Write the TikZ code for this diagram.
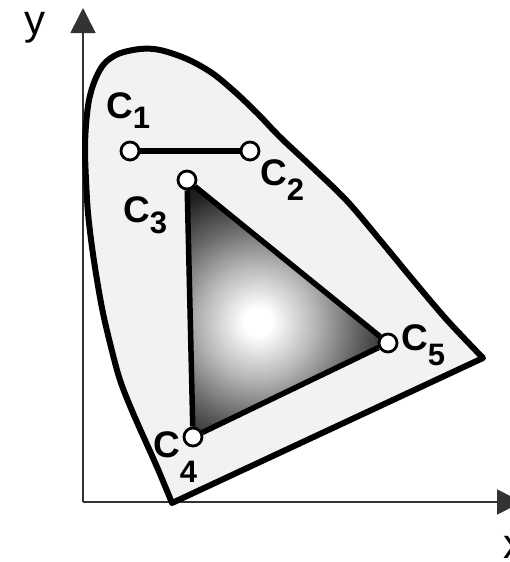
\documentclass[tikz,border=0pt]{standalone}
\usepackage{fontspec}
\setmainfont{Liberation Sans}
\usetikzlibrary{arrows.meta}
\pgfdeclareradialshading{trishade}{\pgfpoint{0bp}{0bp}}{color(0bp)=(white); color(2bp)=(white); color(8bp)=(black!28); color(14bp)=(black!60); color(20bp)=(black!88); color(27bp)=(black); color(50bp)=(black)}
\newcommand{\clab}[2]{C\raisebox{-#2pt}{\fontsize{31}{31}\selectfont #1}}
\begin{document}
\begin{tikzpicture}[x=1pt,y=-1pt,
  axis/.style={line width=1.6pt, black!80, -{Triangle[length=25pt,width=25pt]}},
  outline/.style={line width=6pt, line join=round},
  pnt/.style={circle, draw, fill=white, line width=2.8pt, minimum size=18pt, inner sep=0pt},
  edge/.style={line width=5.5pt},
  lab/.style={anchor=base west, inner sep=0pt, font=\fontsize{37}{37}\selectfont\bfseries},
  axlab/.style={anchor=base west, inner sep=0pt, font=\fontsize{42}{42}\selectfont}]
\useasboundingbox (0,0) rectangle (510,562);
% axes
\coordinate (O) at (83,502);
\coordinate (ytip) at (83,8);
\coordinate (xtip) at (522,502);
\draw[axis] (O) -- (ytip);
\draw[axis] (O) -- (xtip);
\node[axlab] (ylab) at (24,34) {y};
\node[axlab] (xlab) at (503,558) {x};
% horseshoe
\draw[outline, fill=black!5] plot[smooth, tension=0.55] coordinates {
 (172,503) (157,467) (133,413) (120,380) (111,347) (103,313) (97,280) (92,247)
 (88,213) (86,180) (85,150) (86,125) (89,100) (95,80) (104,64) (118,54) (140,49)
 (160,50) (187,59) (212,73) (235,92) (258,114) (280,137) (313,168) (347,201)
 (380,240) (413,280) (447,320) (483,358)} -- cycle;
% triangle
\coordinate (p3) at (187,180);
\coordinate (p4) at (193,437);
\coordinate (p5) at (388,343);
\begin{scope}
 \clip (p3) -- (p4) -- (p5) -- cycle;
 \shade[shading=trishade] (258,322) circle (175);
\end{scope}
% points
\node[pnt] (c1) at (130,151) {};
\node[pnt] (c2) at (250,151) {};
\node[pnt] (c3) at (p3) {};
\node[pnt] (c4) at (p4) {};
\node[pnt] (c5) at (p5) {};
\draw[edge] (c1) -- (c2);
\draw[edge] (c3) -- (c4);
\draw[edge] (c4) -- (c5);
\draw[edge] (c5) -- (c3);
% labels
\node[lab] (l1) at (106,118) {\clab{1}{10}};
\node[lab] (l2) at (260,185) {\clab{2}{15}};
\node[lab] (l3) at (123,222) {\clab{3}{11}};
\node[lab] (l4) at (153,457) {\clab{4}{25}};
\node[lab] (l5) at (401,350) {\clab{5}{15}};
\end{tikzpicture}
\end{document}
